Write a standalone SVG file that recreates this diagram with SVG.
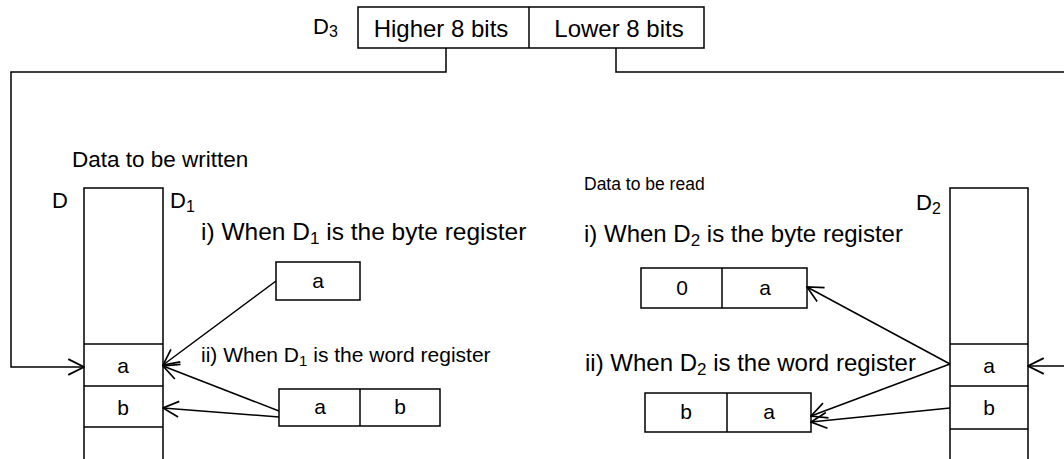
<svg xmlns="http://www.w3.org/2000/svg" width="1064" height="459" viewBox="0 0 1064 459">
<style>
text{font-family:"Liberation Sans",Arial,sans-serif;fill:#000}
.box{fill:#fff;stroke:#000;stroke-width:1.5}
.ln{fill:none;stroke:#000;stroke-width:1.5}
.c{text-anchor:middle}
.f24{font-size:24px}
.f21{font-size:21px}
.lab{font-size:22px}
</style>
<defs>
<marker id="ah" markerUnits="userSpaceOnUse" markerWidth="18" markerHeight="18" viewBox="0 0 16 16" refX="15" refY="8" orient="auto">
<path d="M1,1 L15,8 L1,15" fill="none" stroke="#000" stroke-width="1.5"/>
</marker>
</defs>
<rect width="1064" height="459" fill="#fff"/>

<g id="d3">
<text x="313" y="34" class="lab">D<tspan font-size="16" dy="3">3</tspan></text>
<rect x="358" y="7" width="346" height="41" class="box"/>
<line x1="529" y1="7" x2="529" y2="48" class="ln"/>
<text x="441" y="37" class="f24 c">Higher 8 bits</text>
<text x="619" y="37" class="f24 c">Lower 8 bits</text>
</g>

<g id="write-label">
<text x="72" y="167" font-size="22.5">Data to be written</text>
</g>

<g id="reg-d1">
<text x="52" y="208" class="lab">D</text>
<text x="170" y="208" class="lab">D<tspan font-size="16" dy="4">1</tspan></text>
<polyline points="84,459 84,188 163,188 163,459" class="ln"/>
<line x1="84" y1="344" x2="163" y2="344" class="ln"/>
<line x1="84" y1="386" x2="163" y2="386" class="ln"/>
<line x1="84" y1="427" x2="163" y2="427" class="ln"/>
<text x="123" y="373" class="f21 c">a</text>
<text x="123" y="415" class="f21 c">b</text>
</g>

<g id="byte-d1">
<text x="201" y="240" font-size="24.5">i) When D<tspan font-size="17" dy="4">1</tspan><tspan dy="-4"> is the byte register</tspan></text>
<rect x="276" y="262" width="84" height="38" class="box"/>
<text x="318" y="288" class="f21 c">a</text>
</g>

<g id="word-d1">
<text x="201" y="362" class="f21">ii) When D<tspan font-size="15" dy="4">1</tspan><tspan dy="-4"> is the word register</tspan></text>
<rect x="279" y="389" width="161" height="37" class="box"/>
<line x1="360" y1="389" x2="360" y2="426" class="ln"/>
<text x="320" y="414" class="f21 c">a</text>
<text x="400" y="414" class="f21 c">b</text>
</g>

<g id="read-label">
<text x="584" y="190" font-size="17.5">Data to be read</text>
</g>

<g id="byte-d2">
<text x="584" y="242" class="f24">i) When D<tspan font-size="17" dy="4">2</tspan><tspan dy="-4"> is the byte register</tspan></text>
<rect x="641" y="268" width="166" height="40" class="box"/>
<line x1="722" y1="268" x2="722" y2="308" class="ln"/>
<text x="682" y="295" class="f21 c">0</text>
<text x="765" y="295" class="f21 c">a</text>
</g>

<g id="word-d2">
<text x="585" y="371" class="f24">ii) When D<tspan font-size="17" dy="4">2</tspan><tspan dy="-4"> is the word register</tspan></text>
<rect x="645" y="393" width="166" height="39" class="box"/>
<line x1="727" y1="393" x2="727" y2="432" class="ln"/>
<text x="686" y="419" class="f21 c">b</text>
<text x="769" y="419" class="f21 c">a</text>
</g>

<g id="reg-d2">
<text x="916" y="210" class="lab">D<tspan font-size="16" dy="4">2</tspan></text>
<polyline points="950,459 950,188 1028,188 1028,459" class="ln"/>
<line x1="950" y1="344" x2="1028" y2="344" class="ln"/>
<line x1="950" y1="386" x2="1028" y2="386" class="ln"/>
<line x1="950" y1="429" x2="1028" y2="429" class="ln"/>
<text x="989" y="373" class="f21 c">a</text>
<text x="989" y="415" class="f21 c">b</text>
</g>

<g id="connectors">
<polyline points="446,48 446,72 11,72 11,367 84,367" class="ln" marker-end="url(#ah)"/>
<polyline points="616,48 616,72 1064,72" class="ln"/>
<line x1="1064" y1="366" x2="1028" y2="366" class="ln" marker-end="url(#ah)"/>
<line x1="276" y1="281" x2="163" y2="365" class="ln" marker-end="url(#ah)"/>
<line x1="279" y1="411" x2="163" y2="366" class="ln" marker-end="url(#ah)"/>
<line x1="279" y1="417" x2="163" y2="408" class="ln" marker-end="url(#ah)"/>
<line x1="950" y1="364" x2="807" y2="287" class="ln" marker-end="url(#ah)"/>
<line x1="950" y1="364" x2="811" y2="416" class="ln" marker-end="url(#ah)"/>
<line x1="950" y1="408" x2="811" y2="422" class="ln" marker-end="url(#ah)"/>
</g>
</svg>
